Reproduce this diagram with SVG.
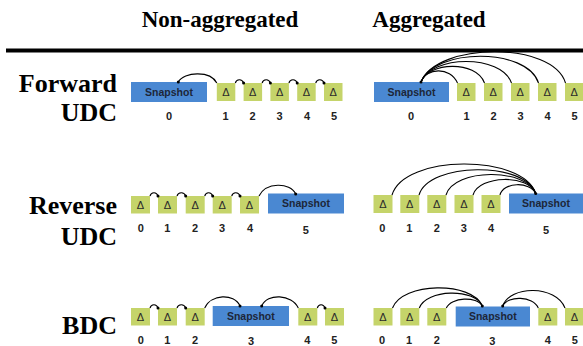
<svg xmlns="http://www.w3.org/2000/svg" width="583" height="346" viewBox="0 0 583 346">
<defs>
<style>
.hdr{font-family:"Liberation Serif","Times New Roman",serif;font-weight:bold;font-size:23px;fill:#000;text-anchor:middle}
.row{font-family:"Liberation Serif","Times New Roman",serif;font-weight:bold;font-size:26px;fill:#000;text-anchor:end}
.snap{fill:#4a88d2}
.dl{fill:#c5d46a}
.st{font-family:"Liberation Sans",Arial,sans-serif;font-weight:bold;font-size:10.5px;fill:#1d2638;text-anchor:middle}
.dt{font-family:"Liberation Sans",Arial,sans-serif;font-size:11px;fill:#2a2a2a;text-anchor:middle}
.num{font-family:"Liberation Sans",Arial,sans-serif;font-weight:bold;font-size:11px;fill:#222;text-anchor:middle}
.arc{fill:none;stroke:#000;stroke-width:1.1}
</style>
<marker id="dot" viewBox="0 0 4 4" refX="2" refY="2" markerWidth="4" markerHeight="4" markerUnits="userSpaceOnUse"><circle cx="2" cy="2" r="1.5" fill="#000"/></marker>
</defs>
<rect width="583" height="346" fill="#fff"/>
<text class="hdr" x="220" y="27">Non-aggregated</text>
<text class="hdr" x="429" y="27">Aggregated</text>
<rect x="6" y="48.5" width="577" height="4" fill="#000"/>
<text class="row" x="117" y="92">Forward</text>
<text class="row" x="117" y="121">UDC</text>
<text class="row" x="117" y="214">Reverse</text>
<text class="row" x="117" y="245">UDC</text>
<text class="row" x="117" y="334">BDC</text>

<!-- Forward UDC non-aggregated -->
<g id="fwd-na">
<rect class="snap" x="131" y="82" width="76" height="20"/><text class="st" x="169" y="95.8">Snapshot</text>
<rect class="dl" x="216.8" y="83" width="18.5" height="18"/><text class="dt" x="226" y="96">Δ</text>
<rect class="dl" x="243.6" y="83" width="18.5" height="18"/><text class="dt" x="252.8" y="96">Δ</text>
<rect class="dl" x="270.4" y="83" width="18.5" height="18"/><text class="dt" x="279.6" y="96">Δ</text>
<rect class="dl" x="297.2" y="83" width="18.5" height="18"/><text class="dt" x="306.4" y="96">Δ</text>
<rect class="dl" x="324" y="83" width="18.5" height="18"/><text class="dt" x="333.2" y="96">Δ</text>
<text class="num" x="169" y="119.5">0</text><text class="num" x="225.5" y="119.5">1</text><text class="num" x="252.5" y="119.5">2</text><text class="num" x="279.5" y="119.5">3</text><text class="num" x="307" y="119.5">4</text><text class="num" x="334" y="119.5">5</text>
</g>
<!-- Forward UDC aggregated -->
<g id="fwd-a">
<rect class="snap" x="374" y="82" width="75" height="20"/><text class="st" x="411.5" y="95.8">Snapshot</text>
<rect class="dl" x="457" y="83" width="18.5" height="18"/><text class="dt" x="466.2" y="96">Δ</text>
<rect class="dl" x="484" y="83" width="18.5" height="18"/><text class="dt" x="493.2" y="96">Δ</text>
<rect class="dl" x="511" y="83" width="18.5" height="18"/><text class="dt" x="520.2" y="96">Δ</text>
<rect class="dl" x="538" y="83" width="18.5" height="18"/><text class="dt" x="547.2" y="96">Δ</text>
<rect class="dl" x="565" y="83" width="18.5" height="18"/><text class="dt" x="574.2" y="96">Δ</text>
<text class="num" x="411" y="120">0</text><text class="num" x="466.5" y="120">1</text><text class="num" x="493.5" y="120">2</text><text class="num" x="520.5" y="120">3</text><text class="num" x="547.5" y="120">4</text><text class="num" x="574.5" y="120">5</text>
</g>
<!-- Reverse UDC non-aggregated -->
<g id="rev-na">
<rect class="dl" x="131" y="196" width="19" height="17.5"/><text class="dt" x="140.5" y="209">Δ</text>
<rect class="dl" x="158" y="196" width="19" height="17.5"/><text class="dt" x="167.5" y="209">Δ</text>
<rect class="dl" x="185.7" y="196" width="19" height="17.5"/><text class="dt" x="195.2" y="209">Δ</text>
<rect class="dl" x="212.7" y="196" width="19" height="17.5"/><text class="dt" x="222.2" y="209">Δ</text>
<rect class="dl" x="240" y="196" width="19" height="17.5"/><text class="dt" x="249.5" y="209">Δ</text>
<rect class="snap" x="268" y="193.5" width="76" height="20"/><text class="st" x="306" y="207.3">Snapshot</text>
<text class="num" x="140.7" y="232">0</text><text class="num" x="167.3" y="232">1</text><text class="num" x="195" y="232">2</text><text class="num" x="222" y="232">3</text><text class="num" x="250" y="232">4</text><text class="num" x="305.7" y="233.5">5</text>
</g>
<!-- Reverse UDC aggregated -->
<g id="rev-a">
<rect class="dl" x="373.5" y="195" width="19" height="18"/><text class="dt" x="383" y="208">Δ</text>
<rect class="dl" x="400.3" y="195" width="19" height="18"/><text class="dt" x="409.8" y="208">Δ</text>
<rect class="dl" x="427.3" y="195" width="19" height="18"/><text class="dt" x="436.8" y="208">Δ</text>
<rect class="dl" x="454.5" y="195" width="19" height="18"/><text class="dt" x="464" y="208">Δ</text>
<rect class="dl" x="481.5" y="195" width="19" height="18"/><text class="dt" x="491" y="208">Δ</text>
<rect class="snap" x="509" y="193.5" width="74" height="20"/><text class="st" x="546" y="207.3">Snapshot</text>
<text class="num" x="382.3" y="232.3">0</text><text class="num" x="409.3" y="232.3">1</text><text class="num" x="436.7" y="232.3">2</text><text class="num" x="463.7" y="232.3">3</text><text class="num" x="491" y="232.3">4</text><text class="num" x="546" y="233.5">5</text>
</g>
<!-- BDC non-aggregated -->
<g id="bdc-na">
<rect class="dl" x="131" y="308" width="19" height="17.5"/><text class="dt" x="140.5" y="321">Δ</text>
<rect class="dl" x="158" y="308" width="19" height="17.5"/><text class="dt" x="167.5" y="321">Δ</text>
<rect class="dl" x="185.7" y="308" width="19" height="17.5"/><text class="dt" x="195.2" y="321">Δ</text>
<rect class="snap" x="212.7" y="306" width="76.3" height="20"/><text class="st" x="250.8" y="319.8">Snapshot</text>
<rect class="dl" x="298.3" y="308" width="19" height="17.5"/><text class="dt" x="307.8" y="321">Δ</text>
<rect class="dl" x="325" y="308" width="19" height="17.5"/><text class="dt" x="334.5" y="321">Δ</text>
<text class="num" x="140.7" y="343.5">0</text><text class="num" x="167.3" y="343.5">1</text><text class="num" x="195" y="343.5">2</text><text class="num" x="251" y="344.5">3</text><text class="num" x="307.3" y="343.5">4</text><text class="num" x="334.3" y="343.5">5</text>
</g>
<!-- BDC aggregated -->
<g id="bdc-a">
<rect class="dl" x="373.5" y="308" width="19" height="17.5"/><text class="dt" x="383" y="321">Δ</text>
<rect class="dl" x="400.3" y="308" width="19" height="17.5"/><text class="dt" x="409.8" y="321">Δ</text>
<rect class="dl" x="427.3" y="308" width="19" height="17.5"/><text class="dt" x="436.8" y="321">Δ</text>
<rect class="snap" x="455.7" y="306.5" width="74.3" height="20"/><text class="st" x="492.8" y="320.3">Snapshot</text>
<rect class="dl" x="538.3" y="308" width="19" height="17.5"/><text class="dt" x="547.8" y="321">Δ</text>
<rect class="dl" x="565" y="308" width="19" height="17.5"/><text class="dt" x="574.5" y="321">Δ</text>
<text class="num" x="382" y="344">0</text><text class="num" x="409" y="344">1</text><text class="num" x="436.7" y="344">2</text><text class="num" x="492.3" y="345">3</text><text class="num" x="547.7" y="344">4</text><text class="num" x="574.7" y="344">5</text>
</g>

<g id="connectors" class="arc">
<!-- forward non-agg -->
<path marker-start="url(#dot)" d="M178.3 82 C184 72,210 70,216.8 83"/>
<path marker-end="url(#dot)" d="M235.3 83 C236.5 79,242 78.5,243.6 83"/>
<path marker-end="url(#dot)" d="M262.1 83 C263.3 79,268.8 78.5,270.4 83"/>
<path marker-end="url(#dot)" d="M288.9 83 C290.1 79,295.6 78.5,297.2 83"/>
<path marker-end="url(#dot)" d="M315.7 83 C316.9 79,322.4 78.5,324 83"/>
<!-- forward agg -->
<path marker-start="url(#dot)" d="M421 82 C426 68,450 66,457.5 83"/>
<path d="M421 82 C428 62,476 60,484.5 83"/>
<path d="M421 82 C431 55,501 54,511.5 83"/>
<path d="M421 82 C434 48,527 47,538.5 83"/>
<path d="M421 82 C437 42,553 41,565.5 83"/>
<!-- reverse non-agg -->
<path marker-end="url(#dot)" d="M150 196 C151.2 192,156.4 191.5,158 196"/>
<path marker-end="url(#dot)" d="M177 196 C178.2 192,184.1 191.5,185.7 196"/>
<path marker-end="url(#dot)" d="M204.7 196 C205.9 192,211.1 191.5,212.7 196"/>
<path marker-end="url(#dot)" d="M231.7 196 C232.9 192,238.4 191.5,240 196"/>
<path marker-end="url(#dot)" d="M259 196 C266 182,290 182,295.7 194"/>
<!-- reverse agg -->
<path d="M392 195 C404 154,523 154,535.7 193.5"/>
<path d="M419 195 C429 162,525 161,535.7 193.5"/>
<path d="M446 195 C454 168,527 168,535.7 193.5"/>
<path d="M473 195 C479 175,529 174,535.7 193.5"/>
<path marker-end="url(#dot)" d="M500 195 C503 182,530 181,535.7 193.5"/>
<!-- BDC non-agg -->
<path marker-end="url(#dot)" d="M150 308 C151.2 304,156.4 303.5,158 308"/>
<path marker-end="url(#dot)" d="M177 308 C178.2 304,184.1 303.5,185.7 308"/>
<path marker-end="url(#dot)" d="M204.7 308 C211 294,234 293,240 306"/>
<path marker-start="url(#dot)" d="M261.7 306 C267 293,292 294,298.3 308"/>
<path marker-end="url(#dot)" d="M317.3 308 C318.5 304,323.4 303.5,325 308"/>
<!-- BDC agg -->
<path d="M392.5 308 C402 282,472 281,482.3 306"/>
<path d="M419.3 308 C426 289,475 288,482.3 306"/>
<path marker-end="url(#dot)" d="M446.3 308 C451 297,477 296,482.3 306"/>
<path marker-start="url(#dot)" d="M502.7 306 C508 295,533 296,538.3 308"/>
<path d="M502.7 306 C510 285,556 285,565 308"/>
</g>
</svg>
